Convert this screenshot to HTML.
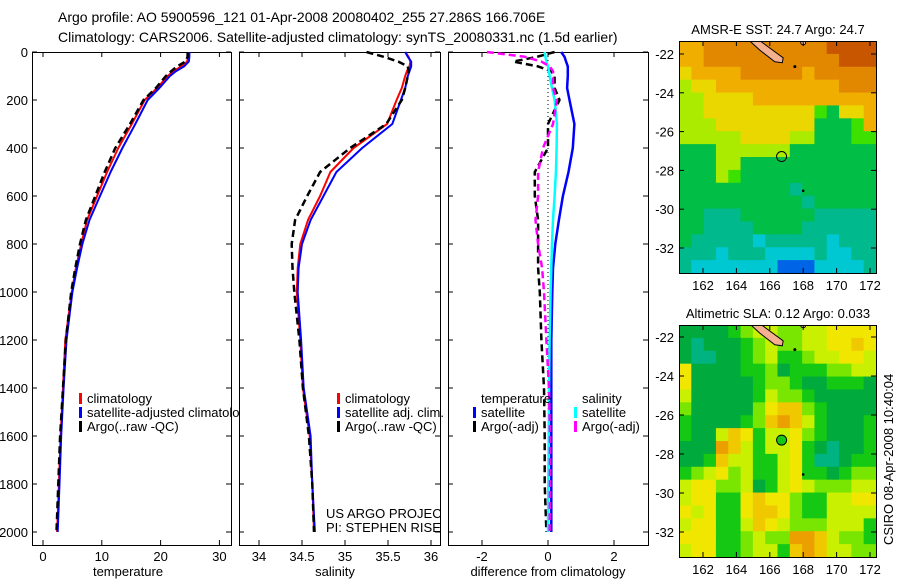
<!DOCTYPE html>
<html><head><meta charset="utf-8"><style>
html,body{margin:0;padding:0;background:#fff;}
svg{display:block;font-family:"Liberation Sans",sans-serif;}
text{fill:#000;}
</style></head><body>
<svg id="fig" width="900" height="580" viewBox="0 0 900 580" xmlns="http://www.w3.org/2000/svg">
<defs>
<clipPath id="cp1"><rect x="32" y="0" width="207" height="580"/></clipPath>
<clipPath id="cp2"><rect x="239" y="0" width="201" height="580"/></clipPath>
<clipPath id="m1"><rect x="679" y="41" width="197" height="232"/></clipPath>
<clipPath id="m2"><rect x="679" y="325" width="197" height="232"/></clipPath>
</defs>
<text x="58" y="22" font-size="14">Argo profile: AO 5900596_121 01-Apr-2008 20080402_255 27.286S 166.706E</text>
<text x="58" y="42" font-size="14">Climatology: CARS2006. Satellite-adjusted climatology: synTS_20080331.nc (1.5d earlier)</text>
<g id="layer"></g>
</svg>
<script>
// ---- data ----
const depths = [0,20,40,60,80,100,150,200,300,400,500,600,700,800,900,1000,1200,1400,1600,1800,2000];
const tempClim = [24.7,24.7,24.5,23.5,22.2,21.2,19.4,17.3,15.1,12.8,10.9,9.2,7.5,6.5,5.6,4.9,3.8,3.4,3.0,2.7,2.4];
const tempSat  = [24.9,24.9,24.8,24.0,22.6,21.6,19.8,17.8,15.7,13.5,11.5,9.7,7.9,6.7,5.8,5.0,4.0,3.5,3.1,2.8,2.5];
const tempArgo = [24.6,24.6,24.2,22.8,21.8,20.9,19.2,17.1,14.8,12.3,10.5,8.9,7.3,6.3,5.5,4.8,3.9,3.4,2.9,2.6,2.3];
const salClim = [35.70,35.74,35.76,35.75,35.72,35.70,35.66,35.60,35.49,35.10,34.83,34.71,34.57,34.48,34.45,34.44,34.48,34.51,34.59,34.62,34.64];
const salSat  = [35.70,35.73,35.77,35.77,35.75,35.73,35.70,35.65,35.55,35.20,34.90,34.75,34.60,34.50,34.46,34.45,34.49,34.52,34.60,34.62,34.65];
const salArgo = [35.25,35.45,35.62,35.73,35.74,35.73,35.70,35.66,35.48,35.06,34.71,34.56,34.42,34.38,34.39,34.41,34.47,34.51,34.58,34.62,34.64];
const diffTempSat  = [0.40,0.50,0.55,0.60,0.60,0.60,0.58,0.65,0.80,0.75,0.62,0.45,0.33,0.22,0.15,0.13,0.10,0.10,0.10,0.10,0.10];
const diffTempArgo = [0.20,-0.33,-1.05,-0.30,0.10,0.20,0.20,0.35,0.00,0.00,-0.40,-0.40,-0.30,-0.30,-0.30,-0.25,-0.20,-0.12,-0.10,-0.10,-0.05];
const diffSalSat   = [-0.10,-0.08,-0.05,0.00,0.03,0.05,0.12,0.20,0.27,0.26,0.24,0.20,0.15,0.12,0.10,0.08,0.05,0.03,0.02,0.01,0.00];
const diffSalArgo  = [-1.85,-0.70,-0.20,0.05,0.15,0.15,0.15,0.27,0.15,-0.15,-0.30,-0.30,-0.38,-0.30,-0.18,-0.12,-0.05,0.03,0.06,0.06,0.05];
const depthTicks = [0,200,400,600,800,1000,1200,1400,1600,1800,2000];
const tempTicks = [0,10,20,30];
const salTicks = [34,34.5,35,35.5,36];
const diffTicks = [-2,0,2];
const latTicks = [-22,-24,-26,-28,-30,-32];
const lonTicks = [162,164,166,168,170,172];
const sstGrid = [
"7788888888889999","7788888888888999","6777788888788888","5667777777777888",
"5566667777777777","5566666666643667","5556666666633347","5555566665533344",
"3335555553333333","3335533333333333","3335433333333333","3333333332333333",
"3333333333233333","3322233333322222","3322223333222222","3222221222221222",
"2221222111121122","2111111100011112"];
const slaGrid = [
"1111234433445555","1011123433445565","1001123422344554","5111122312223344",
"5111112332112221","4111112433211111","3111113566321111","2111123676421112",
"2114652445321112","1117642445210112","1126442245200122","2345342245221233",
"4553341245433344","4552256553224455","5452256653224444","4552246543334442",
"5552234337764332","4552234426764433"];
const sstPalette = ["#0064e6","#00c8d2","#00b98c","#00be46","#3ce100","#aaeb00","#ebd700","#f0af00","#e18700","#c85500"];
const slaPalette = ["#00b482","#00aa3c","#14c814","#78e600","#c8f000","#f0e600","#f0c800","#eba000"];

// ---- scales ----
const y = d => 52 + 0.24*d;
const xT = v => 43 + 5.88*v;
const xS = v => 259 + 86*(v-34);
const xD = v => 548 + 33*v;
const lonX = lon => 703 + (lon-162)*16.7;
const latY1 = lat => 54 + (-22-lat)*19.4;
const latY2 = lat => 337 + (-22-lat)*19.5;

const NS = "http://www.w3.org/2000/svg";
const L = document.getElementById('layer');
function mk(tag, attrs, parent){ const e=document.createElementNS(NS,tag); for(const k in attrs) e.setAttribute(k,attrs[k]); (parent||L).appendChild(e); return e; }
function txt(s,x,yy,opt,parent){ const e=mk('text',Object.assign({x:x,y:yy,'font-size':13},opt||{}),parent); e.textContent=s; return e; }

const panels = [{x0:32,x1:231,name:'temperature-panel'},{x0:239,x1:440,name:'salinity-panel'},{x0:448,x1:648,name:'difference-panel'}];
panels.forEach(p=>{
  const r = mk('rect',{x:p.x0+0.5,y:52.5,width:p.x1-p.x0,height:545-52,fill:'none',stroke:'#000','stroke-width':1});
  
  
  depthTicks.forEach(d=>{
    mk('line',{x1:p.x0,x2:p.x0+5,y1:y(d),y2:y(d),stroke:'#000'});
    mk('line',{x1:p.x1-5,x2:p.x1,y1:y(d),y2:y(d),stroke:'#000'});
  });
});
depthTicks.forEach(d=>{
  const t = txt(String(d),28,y(d)+5,{'text-anchor':'end'});
  
  
});
function xticks(ticks, sc, lbl){
  ticks.forEach(v=>{
    mk('line',{x1:sc(v),x2:sc(v),y1:52,y2:57,stroke:'#000'});
    mk('line',{x1:sc(v),x2:sc(v),y1:540,y2:545,stroke:'#000'});
    const t = txt(String(v),sc(v),561,{'text-anchor':'middle'});
    
    
  });
}
xticks(tempTicks,xT,'temperature');
xticks(salTicks,xS,'salinity');
xticks(diffTicks,xD,'difference');
[['temperature',128,'temperature-axis-title'],['salinity',335,'salinity-axis-title'],['difference from climatology',548,'difference-axis-title']].forEach(a=>{
  const t=txt(a[0],a[1],576,{'text-anchor':'middle'});
  
  
});
const zl = mk('line',{x1:xD(0),x2:xD(0),y1:52,y2:y(1500),stroke:'#000','stroke-dasharray':'1,3'});



function series(vals, sc, color, dash, w, name){
  const pts = vals.map((v,i)=>sc(v).toFixed(1)+','+y(depths[i]).toFixed(1)).join(' ');
  const e = mk('polyline',{points:pts,fill:'none',stroke:color,'stroke-width':w,'stroke-dasharray':dash||'none','stroke-linejoin':'round'});
  
  
}
series(tempClim,xT,'#ff0000',null,2,'temperature-climatology-line');
series(tempSat,xT,'#0000ff',null,2,'temperature-satellite-line');
series(tempArgo,xT,'#000000','7,4',2.5,'temperature-argo-line');
series(salClim,xS,'#ff0000',null,2,'salinity-climatology-line');
series(salSat,xS,'#0000ff',null,2,'salinity-satellite-line');
series(salArgo,xS,'#000000','7,4',2.5,'salinity-argo-line');
series(diffTempSat,xD,'#0000ff',null,2.5,'diff-temperature-satellite-line');
series(diffTempArgo,xD,'#000000','7,4',2.5,'diff-temperature-argo-line');
series(diffSalSat,xD,'#00ffff',null,2.5,'diff-salinity-satellite-line');
series(diffSalArgo,xD,'#ff00ff','7,4',2.5,'diff-salinity-argo-line');

function legItem(x, yy, color, label, clip, name){
  const g = mk('g', clip?{'clip-path':clip}:{});
  
  
  if(color) mk('rect',{x:x,y:yy-10,width:3,height:11,fill:color},g);
  txt(label,x+8,yy,{},g);
}
legItem(79,403,'#ff0000','climatology','url(#cp1)','legend-temp-climatology');
legItem(79,417,'#0000ff','satellite-adjusted climatology','url(#cp1)','legend-temp-satellite');
legItem(79,431,'#000000','Argo(..raw -QC)','url(#cp1)','legend-temp-argo');
legItem(337,403,'#ff0000','climatology',null,'legend-sal-climatology');
legItem(337,417,'#0000ff','satellite adj. clim.',null,'legend-sal-satellite');
legItem(337,431,'#000000','Argo(..raw -QC)',null,'legend-sal-argo');
const cr = mk('g',{'clip-path':'url(#cp2)'});


txt('US ARGO PROJECT',326,518,{},cr);
txt('PI: STEPHEN RISER',326,532,{},cr);
const th = txt('temperature',481,403,{});


const sh = txt('salinity',582,403,{});


legItem(473,417,'#0000ff','satellite',null,'legend-diff-temp-satellite');
legItem(473,431,'#000000','Argo(-adj)',null,'legend-diff-temp-argo');
legItem(574,417,'#00ffff','satellite',null,'legend-diff-sal-satellite');
legItem(574,431,'#ff00ff','Argo(-adj)',null,'legend-diff-sal-argo');

function drawMap(grid, pal, top, latY, clip, title, name, markerFill){
  const g = mk('g',{'clip-path':clip});
  
  
  const rows = grid.length, cols = grid[0].length;
  const cw = 197/cols, rh = 232/rows;
  for(let r=0;r<rows;r++) for(let c=0;c<cols;c++){
    const cell = mk('rect',{x:679+c*cw,y:top+r*rh,width:cw+0.6,height:rh+0.6,fill:pal[+grid[r][c]]},g);
    
    
  }
  const isl = mk('polygon',{points:[[164.7,-21.25],[165.3,-21.25],[166.8,-22.2],[166.75,-22.45],[166.3,-22.4],[165.4,-21.8]].map(p=>lonX(p[0])+','+latY(p[1])).join(' '),fill:'#f5b090',stroke:'#000','stroke-width':1},g);
  
  
  mk('circle',{cx:lonX(168),cy:latY(-21.4),r:2.5,fill:'#f5b090',stroke:'#000'},g);
  mk('circle',{cx:lonX(167.5),cy:latY(-22.65),r:1.5,fill:'#000'},g);
  mk('circle',{cx:lonX(168),cy:latY(-29.05),r:1.3,fill:'#000'},g);
  const m = mk('circle',{cx:lonX(166.706),cy:latY(-27.286),r:5,fill:markerFill,stroke:'#000','stroke-width':1},g);
  
  
  const fr = mk('rect',{x:679.5,y:top+0.5,width:197,height:232,fill:'none',stroke:'#000'});
  
  
  latTicks.forEach(lat=>{
    mk('line',{x1:679,x2:684,y1:latY(lat),y2:latY(lat),stroke:'#000'});
    mk('line',{x1:871,x2:876,y1:latY(lat),y2:latY(lat),stroke:'#000'});
    const t = txt(String(lat),674,latY(lat)+5,{'text-anchor':'end'});
    
    
  });
  lonTicks.forEach(lon=>{
    mk('line',{x1:lonX(lon),x2:lonX(lon),y1:top,y2:top+5,stroke:'#000'});
    mk('line',{x1:lonX(lon),x2:lonX(lon),y1:top+227,y2:top+232,stroke:'#000'});
    const t = txt(String(lon),lonX(lon),top+249,{'text-anchor':'middle'});
    
    
  });
  const tt = txt(title,778,top-7,{'text-anchor':'middle'});
  
  
}
drawMap(sstGrid,sstPalette,41,latY1,'url(#m1)','AMSR-E SST: 24.7 Argo: 24.7','sst-map','none');
drawMap(slaGrid,slaPalette,325,latY2,'url(#m2)','Altimetric SLA: 0.12 Argo: 0.033','sla-map','#14c814');
const cs = txt('CSIRO 08-Apr-2008 10:40:04',0,0,{transform:'translate(893,545) rotate(-90)'});


</script>
</body></html>
